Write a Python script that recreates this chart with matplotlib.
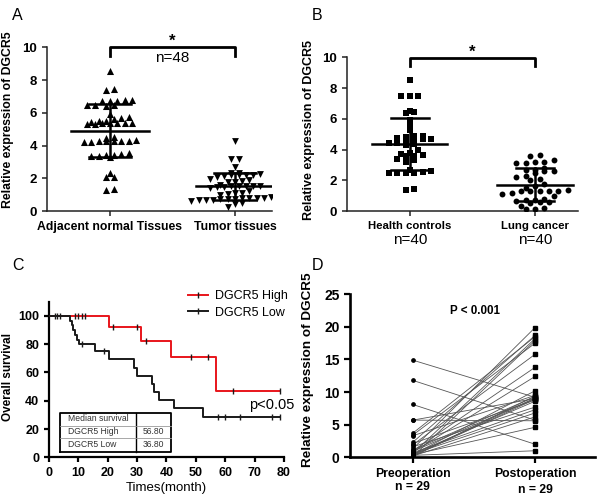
import numpy as np
import matplotlib
matplotlib.use("Agg")
import matplotlib.pyplot as plt
import matplotlib.transforms as mtrans
from matplotlib.lines import Line2D

plt.rcParams['font.family'] = ['Liberation Sans', 'DejaVu Sans']

# ---------------- data ----------------
# Panel A
a_categories = ["Adjacent normal Tissues", "Tumor tissues"]
a_normal = [8.55, 7.45, 7.4, 6.8, 6.75, 6.8, 6.7, 6.75, 6.5, 6.45, 6.5, 6.4, 5.95,
            5.75, 5.7, 5.65, 5.5, 5.45, 5.4, 5.4, 5.35, 5.3, 5.3, 5.35, 5.4, 5.5,
            4.5, 4.45, 4.3, 4.25, 4.2, 4.25, 4.2, 4.3, 4.25, 4.35,
            3.55, 3.5, 3.4, 3.35, 3.3, 3.35, 3.4, 2.3, 2.1, 2.1, 1.35, 1.3]
a_tumor = [4.3, 3.2, 3.15, 2.7, 2.35, 2.3, 2.25, 2.2, 2.2, 2.2, 2.15, 2.2, 2.1,
           1.95, 1.9, 1.85, 1.8, 1.75, 1.6, 1.55, 1.5, 1.5, 1.45, 1.5, 1.55, 1.45, 1.4,
           1.2, 1.1, 1.05, 1.0, 1.1, 0.85, 0.8, 0.8, 0.75, 0.75, 0.7, 0.7, 0.7, 0.75,
           0.8, 0.8, 0.85, 0.6, 0.5, 0.4, 0.25]
a_n_text = "n=48"

# Panel B
b_categories = ["Health controls", "Lung cancer"]
b_n_texts = ["n=40", "n=40"]
b_health = [8.55, 7.5, 7.45, 7.45, 6.5, 6.45, 6.4, 5.9, 5.6, 5.3, 4.9, 4.85, 4.8, 4.75,
            4.7, 4.7, 4.65, 4.6, 4.45, 4.4, 4.35, 4.3, 3.95, 3.75, 3.7, 3.65, 3.6, 3.55,
            3.4, 3.3, 3.2, 2.65, 2.55, 2.5, 2.5, 2.5, 2.5, 2.6, 1.45, 1.35]
b_lung = [3.65, 3.6, 3.3, 3.2, 3.2, 3.1, 3.1, 2.8, 2.7, 2.65, 2.6, 2.6, 2.5, 2.3, 2.2,
          2.1, 2.0, 1.75, 1.6, 1.5, 1.35, 1.3, 1.3, 1.3, 1.3, 1.3, 1.2, 1.1, 1.0, 0.8,
          0.7, 0.7, 0.65, 0.6, 0.6, 0.5, 0.3, 0.2, 0.15, 0.1]

# Panel C (Kaplan-Meier)
high_times = [0, 20.4, 31.5, 41.4, 56.7, 78.5]
high_surv = [100, 92.3, 82.5, 70.7, 47.1, 47.1]
high_censor = [2.6, 8.8, 10.0, 11.1, 12.2, 21.7, 30.0, 32.9, 48.2, 54.0, 62.5, 78.5]
low_times = [0, 7.1, 7.7, 8.3, 8.9, 9.6, 10.3, 15.6, 20.5, 29.1, 29.8, 35.0, 35.9,
             37.4, 42.5, 52.5, 78.5]
low_surv = [100, 96.7, 93.3, 90.0, 86.7, 83.3, 80.0, 75.2, 69.2, 63.4, 57.6, 52.0,
            46.2, 40.4, 34.6, 28.8, 28.8]
low_censor = [2.0, 3.7, 11.2, 18.8, 57.5, 60.0, 65.0, 76.0, 78.5]
km_labels = ["DGCR5 High", "DGCR5 Low"]
median_table = [["Median survival", ""], ["DGCR5 High", "56.80"], ["DGCR5 Low", "36.80"]]

# Panel D (paired)
d_categories = ["Preoperation", "Postoperation"]
d_pre = [14.9, 11.8, 8.1, 5.7, 5.7, 3.7, 3.4, 3.3, 2.3, 2.1, 1.9, 1.6, 1.3, 1.1, 1.0,
         0.9, 0.8, 0.7, 0.6, 0.5, 0.5, 0.4, 0.4, 0.3, 0.3, 0.2, 0.2, 0.1, 0.1]
d_post = [9.2, 5.7, 2.0, 5.6, 9.0, 18.5, 17.5, 9.5, 18.7, 8.8, 15.8, 7.7, 19.9, 9.3, 13.8,
          9.0, 12.4, 7.3, 18.2, 8.6, 6.8, 10.2, 4.6, 9.1, 1.0, 8.9, 6.2, 17.9, 9.4]

# ---------------- helpers ----------------
def swarm_x(vals, center, binw, dx):
    vals = np.asarray(vals, dtype=float)
    xs = np.zeros_like(vals)
    bins = np.round(vals / binw).astype(int)
    for b in np.unique(bins):
        idx = np.where(bins == b)[0]
        idx = idx[np.argsort(vals[idx])]
        n = len(idx)
        xs[idx] = center + (np.arange(n) - (n - 1) / 2) * dx
    return xs


def mean_sd(ax, vals, center, wm, ws, lw=1.8, color='black'):
    m = np.mean(vals)
    s = np.std(vals, ddof=1)
    ax.plot([center - wm, center + wm], [m, m], color=color, lw=lw, zorder=4)
    ax.plot([center - ws, center + ws], [m - s, m - s], color=color, lw=lw, zorder=4)
    ax.plot([center - ws, center + ws], [m + s, m + s], color=color, lw=lw, zorder=4)
    ax.plot([center, center], [m - s, m + s], color=color, lw=lw, zorder=4)


def style_axes(ax, lw=1.0, color='#222222'):
    for sp in ['top', 'right']:
        ax.spines[sp].set_visible(False)
    for sp in ['left', 'bottom']:
        ax.spines[sp].set_linewidth(lw)
        ax.spines[sp].set_color(color)
    ax.tick_params(direction='out', length=3.5, width=lw, color=color)


fig = plt.figure(figsize=(6.04, 5.03), dpi=100)

# ---------------- Panel A ----------------
axA = fig.add_axes([0.0778, 0.5805, 0.3725, 0.3254])
style_axes(axA, lw=1.1)
xa0 = swarm_x(a_normal, 0, 0.35, 0.06)
xa1 = swarm_x(a_tumor, 1, 0.35, 0.058)
axA.scatter(xa0, a_normal, marker='^', s=26, color='black', linewidths=0, zorder=3)
axA.scatter(xa1, a_tumor, marker='v', s=24, color='black', linewidths=0, zorder=3)
mean_sd(axA, a_normal, 0, 0.31, 0.17)
mean_sd(axA, a_tumor, 1, 0.31, 0.17)
axA.set_xlim(-0.504, 1.296)
axA.set_ylim(0, 10)
axA.set_yticks([0, 2, 4, 6, 8, 10])
axA.set_xticks([0, 1])
axA.set_xticklabels(a_categories, fontsize=8.8, fontweight='bold')
for t in axA.get_yticklabels():
    t.set_fontweight('bold'); t.set_fontsize(9.5)
axA.set_ylabel("Relative expression of DGCR5", fontsize=8.8, fontweight='bold')
axA.yaxis.set_label_coords(-0.147, 0.555)
axA.plot([0, 0, 1, 1], [9.5, 10, 10, 9.5], color='black', lw=2.0, clip_on=False)
axA.text(0.5, 10.35, "*", ha='center', va='center', fontsize=12, fontweight='bold')
axA.text(0.5, 9.32, a_n_text, ha='center', va='center', fontsize=11)

# ---------------- Panel B ----------------
axB = fig.add_axes([0.574, 0.5805, 0.383, 0.3056])
style_axes(axB, lw=1.1)
xb0 = swarm_x(b_health, 0, 0.35, 0.068)
xb1 = swarm_x(b_lung, 1, 0.4, 0.075)
axB.scatter(xb0, b_health, marker='s', s=14, color='black', linewidths=0, zorder=3)
axB.scatter(xb1, b_lung, marker='o', s=18, color='black', linewidths=0, zorder=3)
mean_sd(axB, b_health, 0, 0.30, 0.155)
mean_sd(axB, b_lung, 1, 0.30, 0.155)
axB.set_xlim(-0.506, 1.344)
axB.set_ylim(0, 10)
axB.set_yticks([0, 2, 4, 6, 8, 10])
axB.set_xticks([0, 1])
axB.set_xticklabels(b_categories, fontsize=8.2, fontweight='bold')
for t in axB.get_yticklabels():
    t.set_fontweight('bold'); t.set_fontsize(9.5)
axB.set_ylabel("Relative expression of DGCR5", fontsize=9, fontweight='bold')
axB.yaxis.set_label_coords(-0.137, 0.527)
axB.plot([0, 0, 1, 1], [9.45, 9.93, 9.93, 9.45], color='black', lw=2.0, clip_on=False)
axB.text(0.5, 10.3, "*", ha='center', va='center', fontsize=12, fontweight='bold')
trB = mtrans.blended_transform_factory(axB.transData, axB.transAxes)
for i, t in enumerate(b_n_texts):
    axB.text(i, -0.19, t, transform=trB, ha='center', va='center', fontsize=11)

# ---------------- Panel C ----------------
axC = fig.add_axes([0.0811, 0.0909, 0.389, 0.309])
style_axes(axC, lw=1.6, color='black')
axC.step(high_times, high_surv, where='post', color='#e8151b', lw=1.4, zorder=3)
axC.step(low_times, low_surv, where='post', color='#1a1a1a', lw=1.4, zorder=3)
hc_y = [high_surv[np.searchsorted(high_times, t, side='right') - 1] for t in high_censor]
lc_y = [low_surv[np.searchsorted(low_times, t, side='right') - 1] for t in low_censor]
axC.plot(high_censor, hc_y, ls='none', marker='|', ms=4.5, mew=1.0, color='#1a1a1a', zorder=4)
axC.plot(low_censor, lc_y, ls='none', marker='|', ms=4.5, mew=1.0, color='#1a1a1a', zorder=4)
axC.set_xlim(0, 80)
axC.set_ylim(0, 110)
axC.set_xticks(range(0, 81, 10))
axC.set_yticks(range(0, 101, 20))
for t in axC.get_xticklabels() + axC.get_yticklabels():
    t.set_fontweight('bold'); t.set_fontsize(9)
axC.set_xlabel("Times(month)", fontsize=9.5, labelpad=2)
axC.set_ylabel("Overall survival", fontsize=8.5, fontweight='bold')
axC.yaxis.set_label_coords(-0.151, 0.519)
handles = [Line2D([], [], color='#e8151b', lw=1.4, marker='|', ms=4.5, mec='#1a1a1a'),
           Line2D([], [], color='#1a1a1a', lw=1.4, marker='|', ms=4.5, mec='#1a1a1a')]
axC.legend(handles, km_labels, loc='upper left', bbox_to_anchor=(0.59, 1.075),
           frameon=False, fontsize=9, handlelength=1.6, handletextpad=0.6,
           labelspacing=0.35, borderpad=0, borderaxespad=0)
axC.text(75.9, 37, "p<0.05", ha='center', va='center', fontsize=10.5, clip_on=False)
# median survival table
tx0, tx1, tsplit = 3.74, 41.7, 29.5
ty0, ty1 = 4.0, 31.1
row_lines = [22.4, 13.4]
axC.plot([tx0, tx1, tx1, tx0, tx0], [ty0, ty0, ty1, ty1, ty0], color='black', lw=1.3, zorder=5)
axC.plot([tsplit, tsplit], [ty0, ty1], color='black', lw=1.0, zorder=5)
for yl in row_lines:
    axC.plot([tx0, tx1], [yl, yl], color='#999999', lw=0.6, zorder=5)
row_centers = [27.1, 17.9, 8.7]
for r, row in enumerate(median_table):
    axC.text(tx0 + 2.8, row_centers[r], row[0], ha='left', va='center', fontsize=6.2, color='#333333')
    if row[1]:
        axC.text((tsplit + tx1) / 2, row_centers[r], row[1], ha='center', va='center',
                 fontsize=6.2, color='#333333')

# ---------------- Panel D ----------------
axD = fig.add_axes([0.5795, 0.0909, 0.4056, 0.324])
style_axes(axD, lw=1.9, color='black')
for pre, post in zip(d_pre, d_post):
    axD.plot([0, 1], [pre, post], color='#555555', lw=0.6, zorder=2)
axD.plot(np.zeros(len(d_pre)), d_pre, ls='none', marker='o', ms=2.4, color='black', zorder=3)
axD.plot(np.ones(len(d_post)), d_post, ls='none', marker='s', ms=2.6, color='black', zorder=3)
axD.set_xlim(-0.513, 1.49)
axD.set_ylim(0, 25)
axD.set_yticks(range(0, 26, 5))
axD.set_xticks([0, 1])
axD.set_xticklabels(d_categories, fontsize=8.8, fontweight='bold')
axD.tick_params(axis='both', length=4, width=1.6)
for t in axD.get_yticklabels():
    t.set_fontweight('bold'); t.set_fontsize(10)
axD.set_ylabel("Relative expression of DGCR5", fontsize=9.7, fontweight='bold')
axD.yaxis.set_label_coords(-0.147, 0.536)
trD = mtrans.blended_transform_factory(axD.transData, axD.transAxes)
axD.text(0, -0.18, "n = 29", transform=trD, ha='center', va='center', fontsize=8.8, fontweight='bold')
axD.text(1, -0.20, "n = 29", transform=trD, ha='center', va='center', fontsize=8.8, fontweight='bold')
axD.text(0.51, 22.4, "P < 0.001", ha='center', va='center', fontsize=8.4, fontweight='bold')

# ---------------- panel letters ----------------
for lab, x, y in [("A", 12, 15), ("B", 312, 15), ("C", 12, 266), ("D", 312, 266)]:
    fig.text(x / 604, 1 - y / 503, lab, fontsize=11.5, ha='left', va='center')

fig.savefig("out.png", dpi=100)
